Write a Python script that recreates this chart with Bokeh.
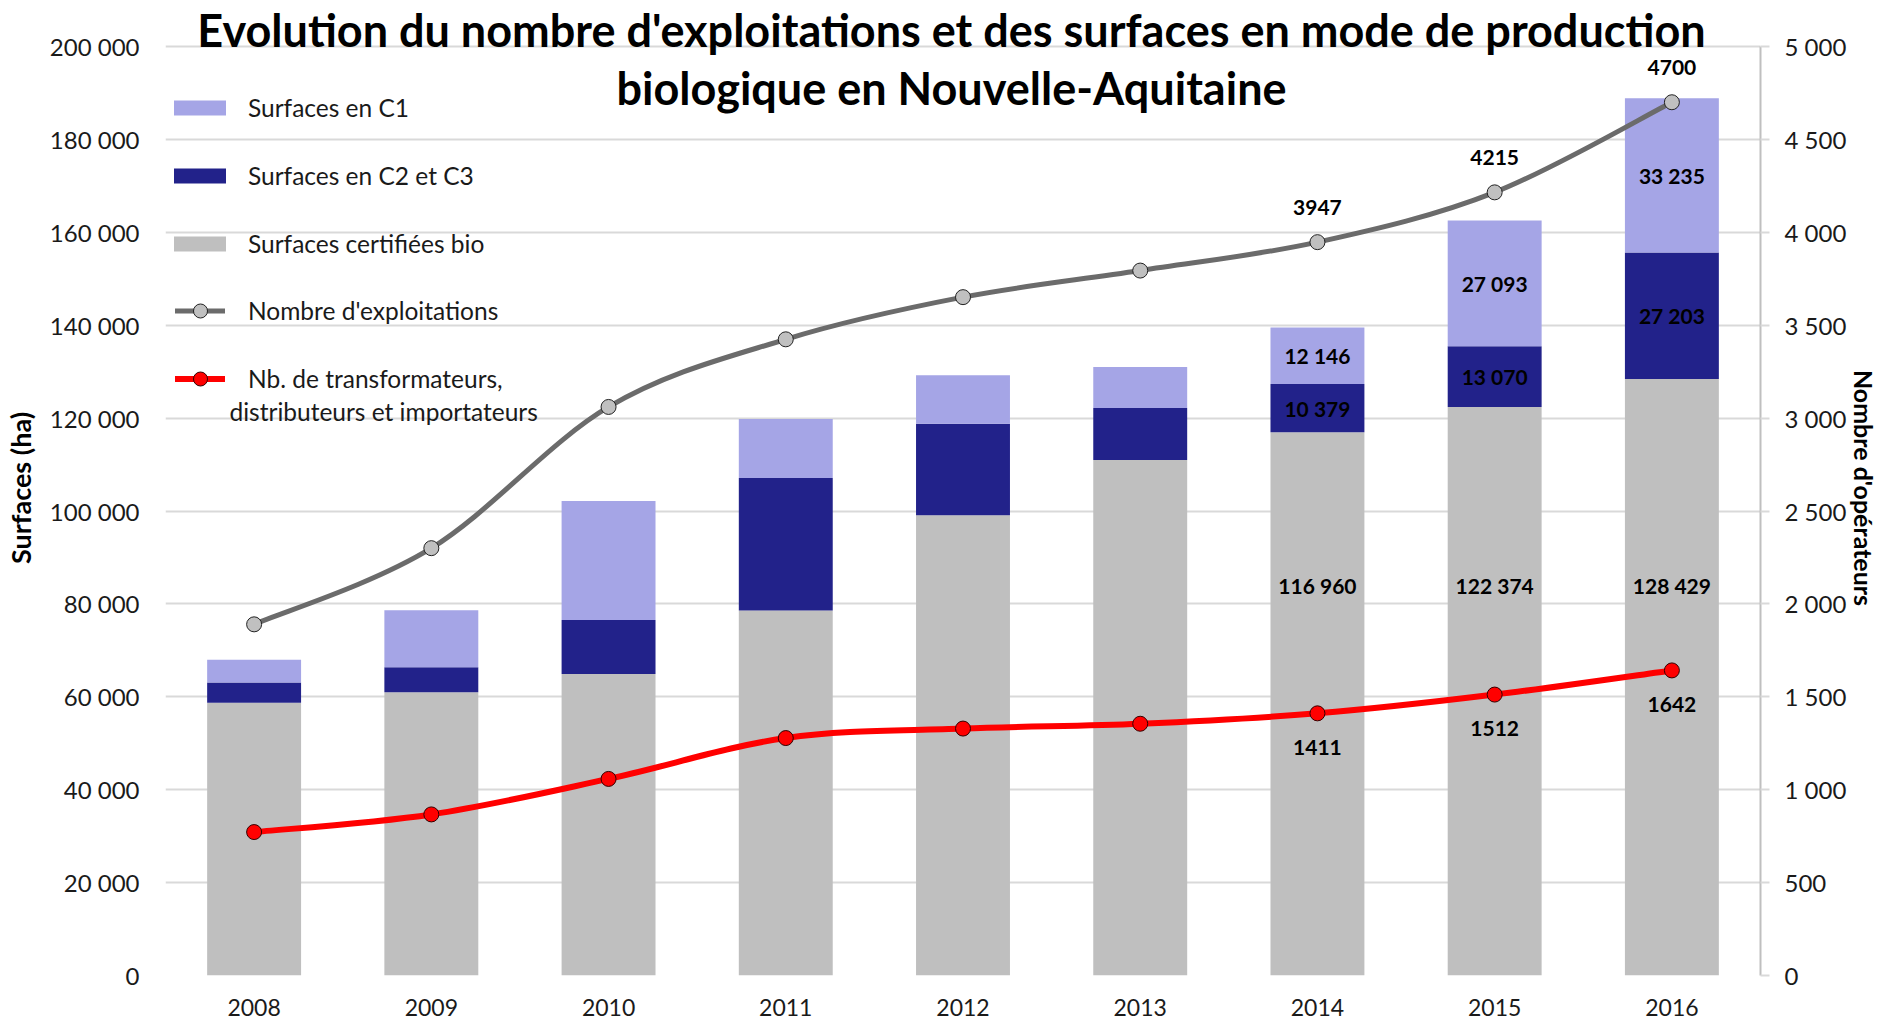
import math
from bokeh.plotting import figure
from bokeh.models import (ColumnDataSource, Range1d, LinearAxis, FixedTicker,
                          Legend, LegendItem, LabelSet, Label)
from bokeh.core.properties import value
from bokeh.embed import file_html
from bokeh.resources import INLINE

# ---------------- data ----------------
years = ["2008", "2009", "2010", "2011", "2012", "2013", "2014", "2015", "2016"]
surf_certifiees = [58700, 61000, 64900, 78600, 99100, 111000, 116960, 122374, 128429]
surf_c2c3 = [4400, 5350, 11650, 28500, 19700, 11200, 10379, 13070, 27203]
surf_c1 = [4900, 12300, 25600, 12700, 10400, 8800, 12146, 27093, 33235]
nb_exploitations = [1890, 2300, 3060, 3424, 3651, 3794, 3947, 4215, 4700]
nb_transformateurs = [772, 867, 1058, 1278, 1329, 1355, 1411, 1512, 1642]
labelled_years = ["2014", "2015", "2016"]
left_ticks = list(range(0, 200001, 20000))
right_ticks = list(range(0, 5001, 500))

# ---------------- layout constants ----------------
FONT = "Lato"
W, H = 1889, 1022
FRAME_LEFT = 165
FRAME_RIGHT = 1760
FW = FRAME_RIGHT - FRAME_LEFT
FH = 975                    # frame from canvas top down to the zero line
PX_200K = 929               # px spanned by 0..200000
Y_TOP = 200000 * FH / PX_200K
R_TOP = 5000 * FH / PX_200K


def px_x(page_x):
    return (page_x - FRAME_LEFT) / (FW / len(years))


def px_y(page_y):
    return (FH - page_y) * 200000 / PX_200K


def fmt(v):
    return f"{v:,}".replace(",", " ")


xs = [i + 0.5 for i in range(len(years))]

p = figure(width=W, height=H, x_range=Range1d(0, len(years)),
           y_range=Range1d(0, Y_TOP), output_backend="svg", toolbar_location=None,
           tools="", min_border_left=FRAME_LEFT, min_border_right=W - FRAME_RIGHT,
           min_border_top=0, min_border_bottom=H - FH)
p.outline_line_color = None
p.background_fill_color = "white"
p.border_fill_color = "white"
p.extra_y_ranges = {"ops": Range1d(0, R_TOP)}

# grid
p.xgrid.visible = False
p.ygrid.ticker = FixedTicker(ticks=left_ticks)
p.ygrid.grid_line_color = "#d9d9d9"
p.ygrid.grid_line_width = 2

# left axis
ya = p.yaxis[0]
ya.ticker = FixedTicker(ticks=left_ticks)
ya.major_label_overrides = {t: fmt(t) for t in left_ticks}
ya.axis_line_color = None
ya.major_tick_line_color = None
ya.minor_tick_line_color = None
ya.major_tick_out = 0
ya.major_label_standoff = 26
ya.major_label_text_font = FONT
ya.major_label_text_font_size = "24px"
ya.major_label_text_color = "#1a1a1a"
ya.axis_label = "Surfaces (ha)"
ya.axis_label_text_font = FONT
ya.axis_label_text_font_style = "bold"
ya.axis_label_text_font_size = "27px"
ya.axis_label_standoff = 10
ya.axis_label_text_color = "#000000"

# bottom axis
xa = p.xaxis[0]
xa.ticker = FixedTicker(ticks=xs)
xa.major_label_overrides = {x: y for x, y in zip(xs, years)}
xa.axis_line_color = None
xa.major_tick_line_color = None
xa.minor_tick_line_color = None
xa.major_tick_out = 0
xa.major_label_standoff = 23
xa.major_label_text_font = FONT
xa.major_label_text_font_size = "23px"
xa.major_label_text_color = "#1a1a1a"

# right axis
ra = LinearAxis(y_range_name="ops", ticker=FixedTicker(ticks=right_ticks))
ra.major_label_overrides = {t: fmt(t) for t in right_ticks}
ra.bounds = (0, 5000)
ra.axis_line_color = "#bfbfbf"
ra.axis_line_width = 2
ra.major_tick_line_color = "#d9d9d9"
ra.major_tick_line_width = 2
ra.major_tick_out = 9
ra.major_tick_in = 0
ra.minor_tick_line_color = None
ra.major_label_standoff = 15
ra.major_label_text_font = FONT
ra.major_label_text_font_size = "24px"
ra.major_label_text_color = "#1a1a1a"
ra.axis_label = "Nombre d'opérateurs"
ra.axis_label_text_font = FONT
ra.axis_label_text_font_style = "bold"
ra.axis_label_text_font_size = "25px"
ra.axis_label_standoff = 0
ra.axis_label_text_color = "#000000"
p.add_layout(ra, "right")

# ---------------- bars ----------------
src = ColumnDataSource(dict(x=xs, cert=surf_certifiees, c2=surf_c2c3, c1=surf_c1))
bars = p.vbar_stack(["cert", "c2", "c1"], x="x", width=0.53, source=src,
                    fill_color=["#bfbfbf", "#22228a", "#a5a5e6"], line_color=None)


# ---------------- smoothed lines ----------------
def smooth(ys):
    n = len(ys)
    d = dict(x0=[], y0=[], x1=[], y1=[], cx0=[], cy0=[], cx1=[], cy1=[])
    for i in range(n - 1):
        a = i - 1 if i > 0 else i
        b = i + 2 if i + 2 < n else i + 1
        d["x0"].append(xs[i]); d["y0"].append(ys[i])
        d["x1"].append(xs[i + 1]); d["y1"].append(ys[i + 1])
        d["cx0"].append(xs[i] + (xs[i + 1] - xs[a]) / 6)
        d["cy0"].append(ys[i] + (ys[i + 1] - ys[a]) / 6)
        d["cx1"].append(xs[i + 1] - (xs[b] - xs[i]) / 6)
        d["cy1"].append(ys[i + 1] - (ys[b] - ys[i]) / 6)
    return ColumnDataSource(d)


grey_line = p.bezier(x0="x0", y0="y0", x1="x1", y1="y1", cx0="cx0", cy0="cy0",
                     cx1="cx1", cy1="cy1", source=smooth(nb_exploitations),
                     line_color="#6b6b6b", line_width=5, line_cap="round",
                     y_range_name="ops")
grey_pts = p.scatter(xs, nb_exploitations, size=15, fill_color="#c0c0c0",
                     line_color="#222222", line_width=1, y_range_name="ops")
red_line = p.bezier(x0="x0", y0="y0", x1="x1", y1="y1", cx0="cx0", cy0="cy0",
                    cx1="cx1", cy1="cy1", source=smooth(nb_transformateurs),
                    line_color="#ff0000", line_width=6, line_cap="round",
                    y_range_name="ops")
red_pts = p.scatter(xs, nb_transformateurs, size=15, fill_color="#ff0000",
                    line_color="#330000", line_width=1, y_range_name="ops")

# ---------------- data labels ----------------
idx = [years.index(y) for y in labelled_years]
lx = [xs[i] for i in idx]
cum_c2 = [surf_certifiees[i] + surf_c2c3[i] / 2 for i in idx]
cum_c1 = [surf_certifiees[i] + surf_c2c3[i] + surf_c1[i] / 2 for i in idx]

lab_common = dict(text_align="center", text_baseline="middle",
                  text_font=value(FONT), text_font_style="bold",
                  text_font_size="21px", text_color="#000000")

p.add_layout(LabelSet(x="x", y="y", text="t", source=ColumnDataSource(dict(
    x=lx, y=[84000] * len(idx), t=[fmt(surf_certifiees[i]) for i in idx])), **lab_common))
p.add_layout(LabelSet(x="x", y="y", text="t", source=ColumnDataSource(dict(
    x=lx, y=cum_c2, t=[fmt(surf_c2c3[i]) for i in idx])), **lab_common))
p.add_layout(LabelSet(x="x", y="y", text="t", source=ColumnDataSource(dict(
    x=lx, y=cum_c1, t=[fmt(surf_c1[i]) for i in idx])), **lab_common))
p.add_layout(LabelSet(x="x", y="y", text="t", y_range_name="ops", y_offset=35,
                      source=ColumnDataSource(dict(
                          x=lx, y=[nb_exploitations[i] for i in idx],
                          t=[str(nb_exploitations[i]) for i in idx])), **lab_common))
p.add_layout(LabelSet(x="x", y="y", text="t", y_range_name="ops", y_offset=-34,
                      source=ColumnDataSource(dict(
                          x=lx, y=[nb_transformateurs[i] for i in idx],
                          t=[str(nb_transformateurs[i]) for i in idx])), **lab_common))

# ---------------- title ----------------
for txt, mid in [("Evolution du nombre d'exploitations et des surfaces en mode de production", 29),
                 ("biologique en Nouvelle-Aquitaine", 87)]:
    p.add_layout(Label(x=px_x(951), y=px_y(mid), text=txt, text_align="center",
                       text_baseline="middle", text_font=FONT,
                       text_font_style="bold", text_font_size="45px",
                       text_color="#000000"))

# ---------------- legends ----------------
leg_common = dict(orientation="vertical", padding=0, margin=0,
                  label_text_font=FONT, label_text_font_size="24.5px",
                  label_text_color="#1a1a1a", background_fill_alpha=0,
                  border_line_alpha=0, label_height=31)
legend_bars = Legend(items=[
    LegendItem(label="Surfaces en C1", renderers=[bars[2]]),
    LegendItem(label="Surfaces en C2 et C3", renderers=[bars[1]]),
    LegendItem(label="Surfaces certifiées bio", renderers=[bars[0]]),
], location=(2, 716), glyph_width=65, glyph_height=19, spacing=37,
    label_standoff=16, **leg_common)
legend_lines = Legend(items=[
    LegendItem(label="Nombre d'exploitations", renderers=[grey_line, grey_pts]),
    LegendItem(label="Nb. de transformateurs,", renderers=[red_line, red_pts]),
], location=(10, 579), glyph_width=50, glyph_height=35, spacing=33,
    label_standoff=23, **leg_common)
p.add_layout(legend_bars)
p.add_layout(legend_lines)
p.add_layout(Label(x=px_x(229), y=px_y(411), text="distributeurs et importateurs",
                   text_align="left", text_baseline="middle", text_font=FONT,
                   text_font_size="24.5px", text_color="#1a1a1a"))

open("out.html", "w").write(file_html(p, INLINE))
